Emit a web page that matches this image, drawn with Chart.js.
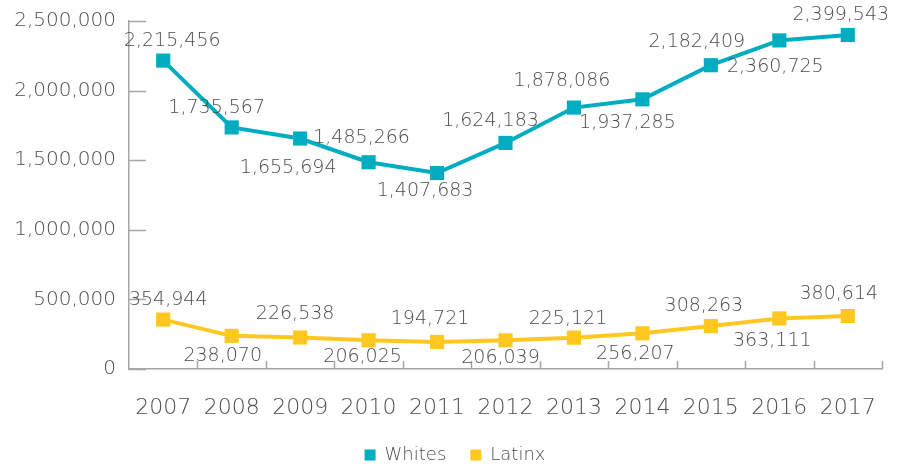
<!DOCTYPE html>
<html><head><meta charset="utf-8">
<script src="https://cdn.jsdelivr.net/npm/chart.js@4/dist/chart.umd.min.js"></script>
<style>html,body{margin:0;padding:0;background:#fff;}#wrap{width:897px;height:467px;position:relative;}</style>
</head><body><div id="wrap"><canvas id="c"></canvas></div>
<script>
const categories = ['2007','2008','2009','2010','2011','2012','2013','2014','2015','2016','2017'];
const whites = [2215456,1735567,1655694,1485266,1407683,1624183,1878086,1937285,2182409,2360725,2399543];
const latinx = [354944,238070,226538,206025,194721,206039,225121,256207,308263,363111,380614];
const yTickValues = [0,500000,1000000,1500000,2000000,2500000];
const seriesNames = ['Whites','Latinx'];

const TEAL = '#00ADC0', GOLD = '#FFC71F', TEXT = '#4d4d4d', AXIS = '#A6A6A6';
const FONT = "'DejaVu Sans', sans-serif";
const WEIGHT = '200';
// label placement (dx, dy) relative to each point
const labelOffsets = [
  [[9,-20],[-15,-19],[-12,30],[-7,-24],[-12,18],[-15,-22],[-12,-27],[-15,24],[-14,-23],[-4,27],[-7,-20]],
  [[5,-20],[-9,20],[-5,-23],[-6,17],[-7,-23],[-5,18],[-6,-19],[-7,21],[-7,-20],[-7,23],[-9,-22]]
];
const fmt = v => Number(v).toLocaleString('en-US');

const inwardTicks = {
  id: 'inwardTicks',
  beforeDatasetsDraw(chart) {
    const {ctx, scales: {x, y}} = chart;
    ctx.save();
    ctx.strokeStyle = AXIS; ctx.lineWidth = 1.5;
    ctx.beginPath();
    y.ticks.forEach(t => {
      const py = Math.round(y.getPixelForValue(t.value)) + 0.5;
      ctx.moveTo(y.right, py); ctx.lineTo(y.right + 17, py);
    });
    for (let i = 0; i < categories.length; i++) {
      const px = Math.round(x.getPixelForValue(i + 0.5)) + 0.5;
      ctx.moveTo(px, x.top); ctx.lineTo(px, x.top - 8);
    }
    ctx.stroke();
    ctx.restore();
  }
};

const dataLabels = {
  id: 'dataLabels',
  afterDatasetsDraw(chart) {
    const {ctx} = chart;
    ctx.save();
    ctx.font = WEIGHT + " 19px " + FONT;
    ctx.fillStyle = TEXT;
    ctx.textAlign = 'center';
    ctx.textBaseline = 'middle';
    chart.data.datasets.forEach((ds, di) => {
      const meta = chart.getDatasetMeta(di);
      meta.data.forEach((pt, i) => {
        const [dx, dy] = labelOffsets[di][i];
        ctx.fillText(fmt(ds.data[i]), pt.x + dx, pt.y + dy);
      });
    });
    ctx.restore();
  }
};

// centre the legend a little right of the canvas middle, as in the reference
const legendShift = {
  id: 'legendShift',
  afterLayout(chart) { if (chart.legend) { chart.legend.left += 28; } }
};

new Chart(document.getElementById('c'), {
  type: 'line',
  data: {
    labels: categories,
    datasets: [
      {label: seriesNames[0], data: whites, borderColor: TEAL, backgroundColor: TEAL,
       borderWidth: 4, pointStyle: 'rect', pointRadius: 10, pointHoverRadius: 10,
       pointBackgroundColor: TEAL, pointBorderWidth: 0, tension: 0},
      {label: seriesNames[1], data: latinx, borderColor: GOLD, backgroundColor: GOLD,
       borderWidth: 4, pointStyle: 'rect', pointRadius: 10, pointHoverRadius: 10,
       pointBackgroundColor: GOLD, pointBorderWidth: 0, tension: 0}
    ]
  },
  options: {
    responsive: true, maintainAspectRatio: false, animation: false,
    layout: {padding: {left: 0, right: 15, top: 21, bottom: -7}},
    plugins: {
      tooltip: {enabled: false},
      legend: {
        position: 'bottom',
        labels: {color: TEXT, font: {family: FONT, size: 18, weight: WEIGHT}, boxWidth: 11, boxHeight: 11, padding: 24,
          generateLabels(chart) {
            return chart.data.datasets.map((ds, i) => ({text: ds.label, fillStyle: ds.borderColor,
              strokeStyle: ds.borderColor, lineWidth: 0, fontColor: TEXT, hidden: false, datasetIndex: i}));
          }}
      }
    },
    scales: {
      x: {
        offset: true,
        grid: {offset: true, drawOnChartArea: false, drawTicks: false},
        border: {display: true, color: AXIS, width: 1.5},
        ticks: {color: TEXT, font: {family: FONT, size: 22, weight: WEIGHT}, padding: 26, maxRotation: 0, autoSkip: false},
        afterFit(s) { s.height = 53; s.paddingLeft = 0; s.paddingRight = 0; }
      },
      y: {
        min: 0, max: 2500000,
        afterBuildTicks(s) { s.ticks = yTickValues.map(v => ({value: v})); },
        grid: {drawOnChartArea: false, drawTicks: false},
        border: {display: true, color: AXIS, width: 1.5},
        ticks: {color: TEXT, font: {family: FONT, size: 20, weight: WEIGHT}, padding: 13, callback: v => fmt(v)},
        afterFit(s) { s.width = 129; s.paddingTop = 0; s.paddingBottom = 0; }
      }
    }
  },
  plugins: [inwardTicks, dataLabels, legendShift]
});
</script></body></html>
